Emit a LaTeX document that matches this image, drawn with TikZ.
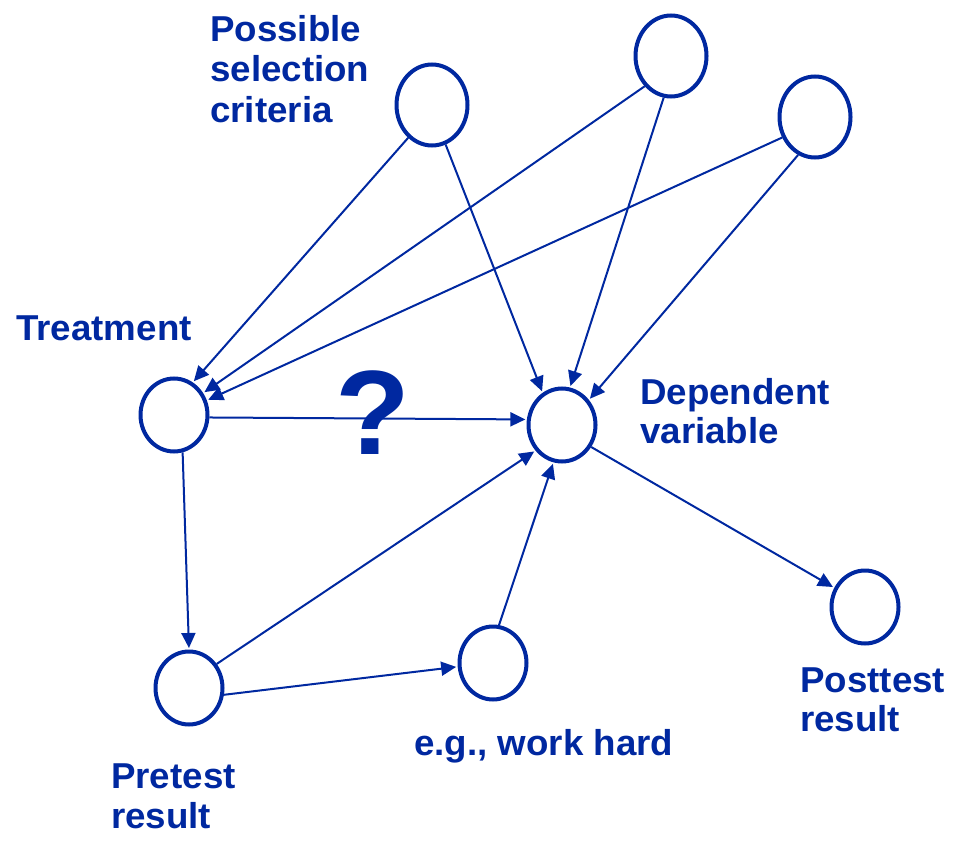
\documentclass[tikz,border=0pt]{standalone}
\usepackage{fontspec}
\setmainfont[FakeStretch=1.02]{Liberation Sans}
\usetikzlibrary{arrows.meta,shapes.geometric}
\definecolor{dblue}{RGB}{0,40,160}
\begin{document}
\begin{tikzpicture}[x=1pt,y=-1pt,
  bigvar/.style={ellipse,draw=dblue,line width=4pt,inner sep=0pt,minimum width=71pt,minimum height=81pt},
  smallvar/.style={ellipse,draw=dblue,line width=4pt,inner sep=0pt,minimum width=67pt,minimum height=73pt},
  conn/.style={draw=dblue,line width=2pt,-{Triangle[length=15pt,width=14pt]},shorten >=1.5pt},
  lbl/.style={text=dblue,font=\bfseries\fontsize{36}{40}\selectfont,anchor=base west,inner sep=0pt}]
\useasboundingbox (0,0) rectangle (960,842);
% variables
\node[bigvar] (t1) at (432,105) {};
\node[bigvar] (t2) at (671,56) {};
\node[bigvar] (t3) at (815,117) {};
\node[smallvar] (tr) at (174,415) {};
\node[smallvar] (dep) at (562,425) {};
\node[smallvar] (pre) at (189,688) {};
\node[smallvar] (wh) at (493,663) {};
\node[smallvar] (post) at (865,607) {};
% connectors
\draw[conn] (t1.234) -- (tr.60);
\draw[conn] (t1.-71) -- (dep.121);
\draw[conn] (t2.229) -- (tr.37);
\draw[conn] (t2.-100) -- (dep.78);
\draw[conn] (t3.212) -- (tr.24);
\draw[conn] (t3.-114) -- (dep.43);
\draw[conn] (tr.-4) -- (dep.171);
\draw[conn] (tr.-77) -- (pre.90);
\draw[conn] (pre.41) -- (dep.224);
\draw[conn] (pre.-11) -- (wh.186);
\draw[conn] (wh.81) -- (dep.-103);
\draw[conn] (dep.-37) -- (post.148);
% labels
\node[lbl] (l1a) at (210,42) {Possible};
\node[lbl] (l1b) at (210,82) {selection};
\node[lbl] (l1c) at (210,123) {criteria};
\node[lbl] (l2) at (16,340) {Treatment};
\node[lbl] (l3a) at (640,404) {Dependent};
\node[lbl] (l3b) at (640,443) {variable};
\node[lbl] (l4a) at (111,788) {Pretest};
\node[lbl] (l4b) at (111,828) {result};
\node[lbl] (l5) at (414,755) {e.g., work hard};
\node[lbl] (l6a) at (800,692) {Posttest};
\node[lbl] (l6b) at (800,731) {result};
\node[text=dblue,font=\bfseries\fontsize{120}{120}\selectfont,inner sep=0pt] (q) at (373,413) {?};
\end{tikzpicture}
\end{document}
